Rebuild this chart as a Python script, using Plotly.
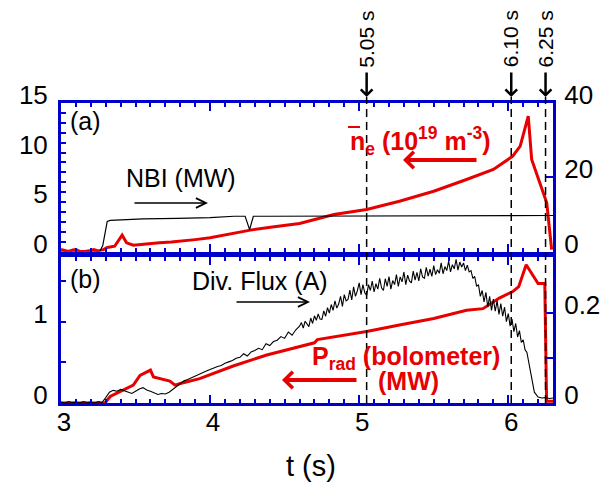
import plotly.graph_objects as go

# ---------------- data ----------------
# panel (a)
t_nbi = [3.0, 3.26, 3.28, 3.31, 3.33, 3.45, 3.55, 3.78, 4.0, 4.16, 4.235, 4.265, 4.29, 4.4, 5.0, 6.3]
nbi_mw = [0.0, 0.0, 1.6, 8.1, 8.4, 8.6, 8.8, 8.9, 9.1, 9.5, 9.5, 5.9, 9.5, 9.5, 9.6, 9.7]

t_ne = [3.0, 3.02, 3.05, 3.08, 3.1, 3.13, 3.16, 3.2, 3.22, 3.25, 3.28, 3.31, 3.36, 3.41, 3.44,
        3.485, 3.55, 3.66, 3.74, 3.82, 3.9, 4.0, 4.13, 4.27, 4.43, 4.6, 4.83, 5.05, 5.27,
        5.5, 5.72, 5.9, 6.03, 6.08, 6.134, 6.157, 6.258, 6.291]
ne = [0.2, 0.1, 0.0, 0.15, 0.2, 0.0, 0.0, 0.1, 0.2, 0.05, 0.15, 0.4, 0.53, 1.65, 0.88,
      0.64, 0.75, 0.88, 0.95, 1.04, 1.2, 1.38, 1.75, 2.16, 2.5, 2.83, 3.74, 4.24, 5.08,
      6.09, 7.27, 8.28, 9.63, 10.64, 13.67, 9.29, 4.92, 0.2]

# panel (b)
t_prad = [3.0, 3.295, 3.33, 3.42, 3.485, 3.53, 3.6, 3.62, 3.73, 3.765, 3.8, 3.93, 4.155, 4.38,
          4.6, 4.7, 4.72, 5.05, 5.27, 5.5, 5.72, 5.83, 5.94, 6.03, 6.07, 6.12, 6.2, 6.245, 6.257, 6.3]
prad = [0.0, 0.0, 0.08, 0.16, 0.22, 0.34, 0.405, 0.32, 0.27, 0.22, 0.24, 0.30, 0.455, 0.59,
        0.69, 0.74, 0.78, 0.88, 0.96, 1.04, 1.14, 1.16, 1.29, 1.37, 1.43, 1.70, 1.47, 1.47, 0.02, 0.02]

flux_t = [3.000, 3.025, 3.050, 3.075, 3.100, 3.125, 3.150, 3.175, 3.200, 3.225, 3.250, 3.275,
          3.300, 3.325, 3.350, 3.375, 3.400, 3.425, 3.450, 3.475, 3.500, 3.525, 3.550, 3.575,
          3.600, 3.625, 3.650, 3.675, 3.700, 3.725, 3.750, 3.775, 3.800, 3.825, 3.850, 3.875,
          3.900, 3.925, 3.950, 3.975, 4.000, 4.025, 4.050, 4.075, 4.100, 4.125, 4.150, 4.175,
          4.200, 4.225, 4.250, 4.275, 4.300, 4.325, 4.350, 4.375, 4.400, 4.425, 4.450, 4.475,
          4.500, 4.525, 4.550, 4.575,
          4.6000, 4.6125, 4.6250, 4.6375, 4.6500, 4.6625, 4.6750, 4.6875,
          4.7000, 4.7125, 4.7250, 4.7375, 4.7500, 4.7625, 4.7750, 4.7875,
          4.8000, 4.8125, 4.8250, 4.8375, 4.8500, 4.8625, 4.8750, 4.8875,
          4.9000, 4.9125, 4.9250, 4.9375, 4.9500, 4.9625, 4.9750, 4.9875,
          5.0000, 5.0125, 5.0250, 5.0375, 5.0500, 5.0625, 5.0750, 5.0875,
          5.1000, 5.1125, 5.1250, 5.1375, 5.1500, 5.1625, 5.1750, 5.1875,
          5.2000, 5.2125, 5.2250, 5.2375, 5.2500, 5.2625, 5.2750, 5.2875,
          5.3000, 5.3125, 5.3250, 5.3375, 5.3500, 5.3625, 5.3750, 5.3875,
          5.4000, 5.4125, 5.4250, 5.4375, 5.4500, 5.4625, 5.4750, 5.4875,
          5.5000, 5.5125, 5.5250, 5.5375, 5.5500, 5.5625, 5.5750, 5.5875,
          5.6000, 5.6125, 5.6250, 5.6375, 5.6500, 5.6625, 5.6750, 5.6875,
          5.7000, 5.7125, 5.7250, 5.7375, 5.7500, 5.7625, 5.7750, 5.7875,
          5.8000, 5.8125, 5.8250, 5.8375, 5.8500, 5.8625, 5.8750, 5.8875,
          5.9000, 5.9125, 5.9250, 5.9375, 5.9500, 5.9625, 5.9750, 5.9875,
          6.0000, 6.0125, 6.0250, 6.0375, 6.0500, 6.0625, 6.0750, 6.0875,
          6.1000, 6.1125, 6.1250, 6.1375, 6.1500,
          6.175, 6.200, 6.225, 6.250, 6.275, 6.300]
flux_a = [0.002, 0.000, 0.003, 0.001, 0.002, 0.000, 0.003, 0.001, 0.002, 0.000, 0.003, 0.001,
          0.012, 0.024, 0.028, 0.026, 0.030, 0.027, 0.025, 0.021, 0.026, 0.031, 0.034, 0.029,
          0.026, 0.022, 0.019, 0.021, 0.020, 0.024, 0.030, 0.038, 0.043, 0.049, 0.052, 0.056,
          0.060, 0.064, 0.067, 0.071, 0.074, 0.078, 0.081, 0.083, 0.088, 0.091, 0.094, 0.099,
          0.101, 0.109, 0.104, 0.113, 0.116, 0.121, 0.118, 0.131, 0.127, 0.136, 0.139, 0.147,
          0.143, 0.157, 0.150, 0.162,
          0.170, 0.178, 0.166, 0.181, 0.174, 0.169, 0.188, 0.176,
          0.193, 0.183, 0.197, 0.186, 0.185, 0.204, 0.192, 0.211,
          0.199, 0.218, 0.205, 0.226, 0.210, 0.219, 0.236, 0.214,
          0.240, 0.226, 0.229, 0.250, 0.228, 0.257, 0.236, 0.248,
          0.266, 0.240, 0.262, 0.244, 0.238, 0.262, 0.249, 0.270,
          0.246, 0.264, 0.252, 0.276, 0.255, 0.249, 0.275, 0.258,
          0.280, 0.252, 0.271, 0.262, 0.284, 0.258, 0.279, 0.268,
          0.290, 0.262, 0.283, 0.270, 0.266, 0.292, 0.272, 0.289,
          0.270, 0.297, 0.279, 0.276, 0.300, 0.281, 0.296, 0.280,
          0.304, 0.284, 0.295, 0.287, 0.310, 0.286, 0.302, 0.293,
          0.314, 0.290, 0.306, 0.297, 0.318, 0.294, 0.312, 0.301,
          0.310, 0.293, 0.305, 0.290, 0.293, 0.276, 0.280, 0.258,
          0.262, 0.236, 0.249, 0.224, 0.245, 0.212, 0.236, 0.205,
          0.230, 0.203, 0.226, 0.196, 0.220, 0.192, 0.212, 0.180,
          0.198, 0.170, 0.186, 0.158, 0.176, 0.146, 0.160, 0.134,
          0.140, 0.118, 0.112, 0.090, 0.060,
          0.024, 0.013, 0.011, 0.012, 0.010, 0.011]

mark_t = [5.05, 6.02, 6.25]
mark_lbl = ["5.05 s", "6.10 s", "6.25 s"]

x_major = [3, 4, 5, 6]
ya_vals = list(range(0, 16))
ya_text = [str(v) if v % 5 == 0 else "" for v in ya_vals]
ya2_vals = [0, 20, 40]
yb_vals = [0, 0.5, 1, 1.5]
yb_text = ["0", "", "1", ""]
yb2_vals = [0, 0.1, 0.2]
yb2_text = ["0", "", "0.2"]

# ---------------- styling ----------------
W, H = 615, 489
OFF = 8                       # page body margin of the browser
ML, MT = 53, 95
PW, PH = 492, 300
MR, MB = W - ML - PW, H - MT - PH
BLUE = "#0000cc"
RED = "#e60000"
FONT = "Liberation Sans, Arial, sans-serif"


def px(x):   # screen pixel -> paper x
    return (x - OFF - ML) / PW


def py(y):   # screen pixel -> paper y
    return (OFF + MT + PH - y) / PH


fig = go.Figure()
fig.add_trace(go.Scatter(x=t_ne, y=ne, xaxis="x", yaxis="y", mode="lines",
                         line=dict(color=RED, width=3)))
fig.add_trace(go.Scatter(x=t_nbi, y=nbi_mw, xaxis="x", yaxis="y2", mode="lines",
                         line=dict(color="black", width=1.2)))
fig.add_trace(go.Scatter(x=t_prad, y=prad, xaxis="x2", yaxis="y3", mode="lines",
                         line=dict(color=RED, width=3)))
fig.add_trace(go.Scatter(x=flux_t, y=flux_a, xaxis="x2", yaxis="y4", mode="lines",
                         line=dict(color="black", width=1.1)))

tickfont = dict(family=FONT, size=26, color="black")

xcommon = dict(range=[3, 6.3], tickvals=x_major, ticks="inside", ticklen=8, tickwidth=2,
               tickcolor=BLUE, showline=True, linecolor=BLUE, linewidth=3, mirror="ticks",
               showgrid=False, zeroline=False, automargin=False,
               minor=dict(dtick=0.1, ticks="inside", ticklen=4, tickwidth=2, tickcolor=BLUE,
                          showgrid=False))
ycommon = dict(ticks="inside", ticklen=5, tickwidth=2, tickcolor=BLUE, showline=True,
               linecolor=BLUE, linewidth=3, showgrid=False, zeroline=False, tickfont=tickfont,
               ticklabelshift=-8, automargin=False)

fig.update_layout(
    width=W, height=H, margin=dict(l=ML, r=MR, t=MT, b=MB),
    paper_bgcolor="white", plot_bgcolor="white", showlegend=False,
    xaxis=dict(domain=[0, 1], anchor="y", showticklabels=False, **xcommon),
    xaxis2=dict(domain=[0, 1], anchor="y3", showticklabels=True, tickfont=tickfont,
                ticklabelshift=3, ticklabelstandoff=-6, **xcommon),
    yaxis=dict(domain=[0.505, 1], anchor="x", range=[0, 15], tickvals=ya_vals,
               ticktext=ya_text, mirror=True, ticklabelstandoff=5, **ycommon),
    yaxis2=dict(overlaying="y", side="right", anchor="x", range=[0, 40], tickvals=ya2_vals,
                ticklabelstandoff=3, **{**ycommon, "ticklen": 7}),
    yaxis3=dict(domain=[0, 0.488], anchor="x2", range=[0, 1.8], tickvals=yb_vals,
                ticktext=yb_text, mirror=True, ticklabelstandoff=5, **ycommon),
    yaxis4=dict(overlaying="y3", side="right", anchor="x2", range=[0, 0.324],
                tickvals=yb2_vals, ticktext=yb2_text, ticklabelstandoff=3,
                **{**ycommon, "ticklen": 7}),
)

# vertical time markers
for tm, lbl in zip(mark_t, mark_lbl):
    fig.add_shape(type="line", xref="x", yref="paper", x0=tm, x1=tm, y0=0, y1=py(97),
                  line=dict(color="black", width=1.5, dash="8px,5px"))
    fig.add_annotation(x=tm, xref="x", y=py(97), yref="paper", text="", showarrow=True,
                       ax=0, ay=-26, arrowhead=4, arrowsize=0.9, arrowwidth=2.5,
                       arrowcolor="black", standoff=0)
    fig.add_annotation(x=tm, xref="x", y=py(39), yref="paper", text=lbl, showarrow=False,
                       textangle=-90, xanchor="center", yanchor="middle",
                       font=dict(family=FONT, size=21, color="black"))

txt = dict(family=FONT, size=25, color="black")
rtxt = dict(family=FONT, size=25, color=RED)


def label(x, y, text, font):
    fig.add_annotation(x=px(x), y=py(y), xref="paper", yref="paper", text=text,
                       showarrow=False, font=font, xanchor="center", yanchor="middle")


def arrow(xh, yh, dx, color, width, head, size):
    fig.add_annotation(x=px(xh), y=py(yh), xref="paper", yref="paper", text="",
                       showarrow=True, ax=dx, ay=0, arrowhead=head, arrowsize=size,
                       arrowwidth=width, arrowcolor=color, standoff=0)


label(85, 121, "(a)", txt)
label(85, 279, "(b)", txt)
label(181, 178, "NBI (MW)", txt)
label(260, 281, "Div. Flux (A)", txt)
label(420, 141, "<b>n<sub>e</sub> (10<sup>19</sup> m<sup>-3</sup>)</b>", rtxt)
label(406, 358, "<b>P<sub>rad</sub> (bolometer)</b>", rtxt)
label(408, 381, "<b>(MW)</b>", rtxt)
label(311, 466, "t (s)", dict(family=FONT, size=29, color="black"))

arrow(208, 203, -75, "black", 1.3, 5, 1.5)
arrow(310, 302, -75, "black", 1.3, 5, 1.5)
arrow(403, 160, 75, RED, 4, 4, 0.8)
arrow(282, 380, 76, RED, 4, 4, 0.8)

# overline on n_e
fig.add_shape(type="line", xref="paper", yref="paper", x0=px(348), x1=px(360),
              y0=py(127), y1=py(127), line=dict(color=RED, width=2))

fig.write_html("out.html")
